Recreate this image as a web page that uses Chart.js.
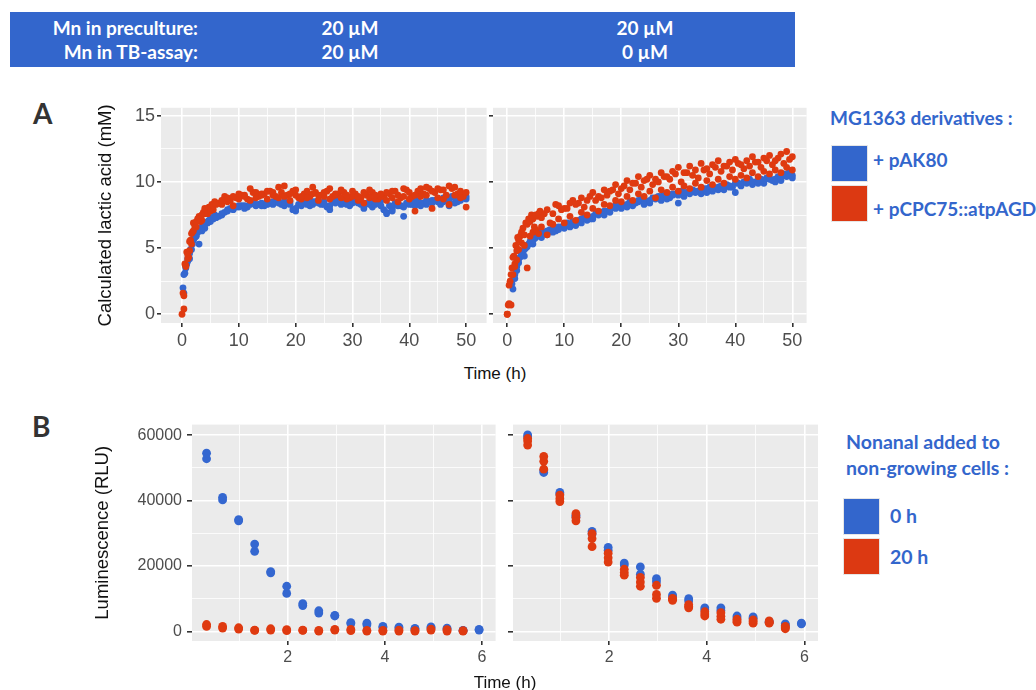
<!DOCTYPE html>
<html>
<head>
<meta charset="utf-8">
<script src="https://cdn.jsdelivr.net/npm/chart.js@4.4.1/dist/chart.umd.min.js"></script>
<style>
    body { margin: 0; width: 1036px; height: 690px; background: #fff; position: relative; overflow: hidden; font-family: "Liberation Sans", Arial, sans-serif; }
    canvas { position: absolute; }
    #banner { position: absolute; left: 10px; top: 12px; width: 785px; height: 55px; background: #3366cc; }
    .bn { position: absolute; color: #fff; font: bold 19px Lato, sans-serif; line-height: 20px; white-space: nowrap; }
    .lbl { position: absolute; color: #333; font: bold 28px Lato, sans-serif; line-height: 28px; }
    .xt { position: absolute; width: 200px; text-align: center; font-size: 17px; line-height: 20px; color: #111; }
    .lg { position: absolute; color: #3366cc; font: bold 19px Lato, sans-serif; line-height: 22px; white-space: nowrap; }
    .lg2 { font-size: 19.5px; }
    .sq { position: absolute; width: 35px; height: 35px; border: 1px solid #e6e6e6; }
</style>
</head>
<body>
<div id="banner">
    <div class="bn" style="left:0;width:188px;text-align:right;top:6px">Mn in preculture:</div>
    <div class="bn" style="left:0;width:188px;text-align:right;top:30px">Mn in TB-assay:</div>
    <div class="bn" style="left:280px;width:120px;text-align:center;top:6px">20 µM</div>
    <div class="bn" style="left:280px;width:120px;text-align:center;top:30px">20 µM</div>
    <div class="bn" style="left:575px;width:120px;text-align:center;top:6px">20 µM</div>
    <div class="bn" style="left:575px;width:120px;text-align:center;top:30px">0 µM</div>
</div>

<div class="lbl" style="left:33px;top:99px">A</div>
<div class="lbl" style="left:32px;top:412px">B</div>

<canvas id="aLeft"></canvas>
<canvas id="aRight"></canvas>
<canvas id="bLeft"></canvas>
<canvas id="bRight"></canvas>

<div class="xt" style="left:395px;top:364px">Time (h)</div>
<div class="xt" style="left:405px;top:673px">Time (h)</div>

<div class="lg" style="left:830px;top:107px">MG1363 derivatives :</div>
<div class="sq" style="left:831px;top:145px;background:#3366cc"></div>
<div class="sq" style="left:831px;top:185px;background:#dc3912"></div>
<div class="lg" style="left:873px;top:149px">+ pAK80</div>
<div class="lg" style="left:873px;top:198px">+ pCPC75::atpAGD</div>

<div class="lg lg2" style="left:846px;top:431px">Nonanal added to</div>
<div class="lg lg2" style="left:846px;top:457px">non-growing cells :</div>
<div class="sq" style="left:843px;top:498px;background:#3366cc"></div>
<div class="sq" style="left:843px;top:538px;background:#dc3912"></div>
<div class="lg lg2" style="left:890px;top:505px">0 h</div>
<div class="lg lg2" style="left:890px;top:546px">20 h</div>

<script>
// --- Panel A: calculated lactic acid (mM) vs time (h) ---
const timeA = [0, 0.33, 0.67, 1, 1.33, 1.67, 2, 2.5, 3, 3.5, 4, 4.5, 5, 5.5, 6,
    7, 8, 9, 10, 11, 12, 13, 14, 15, 16, 17,
    18, 19, 20, 21, 22, 23, 24, 25, 26, 27, 28,
    29, 30, 31, 32, 33, 34, 35, 36, 37, 38, 39,
    40, 41, 42, 43, 44, 45, 46, 47, 48, 49, 50];
const timeAOff = [0.17, 0.5, 0.83, 1.17, 1.5, 1.83, 2.25, 2.75, 3.25, 3.75, 4.25, 4.75, 5.25, 5.75,
    6.5, 7.5, 8.5, 9.5, 10.5, 11.5, 12.5, 13.5, 14.5, 15.5, 16.5,
    17.5, 18.5, 19.5, 20.5, 21.5, 22.5, 23.5, 24.5, 25.5, 26.5, 27.5,
    28.5, 29.5, 30.5, 31.5, 32.5, 33.5, 34.5, 35.5, 36.5, 37.5, 38.5,
    39.5, 40.5, 41.5, 42.5, 43.5, 44.5, 45.5, 46.5, 47.5, 48.5, 49.5];

// 20 µM / 20 µM, pAK80 (blue)
const lacL_pak1 = [null, 3.0, 3.6, 4.2, 4.6, 5.5, 5.7, 6.0, 6.3, 6.6, 6.8, 7.0, 7.2, 7.3, 7.4,
    7.6, 7.8, 8.0, 8.1, 8.2, 8.3, 8.2, 8.4, 8.3, 8.5, 8.4,
    8.5, 8.3, 8.0, 8.4, 8.3, 8.5, 8.6, 8.3, 7.9, 8.4, 8.5,
    8.3, 8.6, 8.4, 8.2, 8.5, 8.3, 8.6, 7.6, 7.8, 8.2, 7.4,
    8.3, 8.5, 8.2, 8.6, 8.4, 8.7, 8.5, 8.2, 8.8, 8.6, 8.7];
const lacL_pak2 = [null, 1.6, 3.5, 4.0, 4.2, 4.9, 5.6, 5.9, 5.3, 6.3, 6.5, 6.9, 7.0, 7.2, 7.3,
    7.5, 7.9, 7.9, 8.2, 8.0, 8.4, 8.3, 8.2, 8.5, 8.3, 8.5,
    8.2, 8.5, 7.8, 8.2, 8.5, 8.3, 8.4, 8.5, 8.2, 8.6, 8.3,
    8.5, 8.4, 8.6, 8.0, 8.3, 8.5, 8.2, 7.7, 8.0, 8.3, 8.1,
    8.5, 8.2, 8.4, 8.3, 8.6, 8.5, 8.8, 8.6, 8.4, 8.7, 8.9];
const lacL_pak3 = [2.0, 3.1, 3.8, 4.3, 4.9, 5.3, 5.8, 6.2, 6.4, 6.7, 6.9, 7.1, 7.3, 7.5,
    7.4, 7.7, 8.0, 8.1, 8.2, 8.1, 8.4, 8.3, 8.2, 8.4, 8.5,
    8.3, 8.4, 7.9, 8.3, 8.4, 8.2, 8.5, 8.3, 8.1, 8.5, 8.6,
    8.4, 8.2, 8.5, 8.3, 8.4, 8.1, 8.6, 7.9, 8.2, 8.4, 8.2,
    8.4, 8.3, 8.6, 8.4, 8.5, 8.6, 8.3, 8.7, 8.9, 8.5, 8.8];
// 20 µM / 20 µM, pCPC75::atpAGD (red)
const lacL_atp1 = [0.0, 1.4, 3.7, 4.5, 5.5, 6.1, 6.3, 7.0, 7.3, 7.5, 8.0, 7.6, 7.8, 8.2, 8.3,
    8.6, 8.8, 8.9, 9.1, 9.0, 9.5, 9.2, 9.0, 9.3, 9.2, 9.6,
    9.7, 9.1, 9.4, 8.9, 9.3, 9.6, 9.0, 9.2, 9.5, 9.1, 9.4,
    9.0, 9.3, 8.9, 9.2, 9.4, 9.0, 9.1, 9.2, 9.3, 9.0, 9.5,
    9.2, 9.0, 9.5, 9.6, 9.3, 9.5, 9.4, 9.7, 9.6, 9.3, 9.2];
const lacL_atp2 = [null, 0.4, 3.6, 4.2, 4.8, 5.3, 6.9, 6.6, 7.4, 7.1, 7.6, 8.0, 8.1, 7.9, 8.4,
    8.3, 8.5, 8.2, 8.7, 8.9, 8.6, 8.8, 9.1, 8.7, 9.0, 8.8,
    8.9, 8.6, 9.0, 8.7, 8.8, 9.1, 8.6, 8.9, 8.7, 9.0, 8.8,
    8.7, 8.9, 8.6, 8.4, 8.8, 8.7, 8.9, 8.6, 8.8, 8.5, 8.9,
    8.7, 7.8, 8.9, 9.0, 8.0, 8.8, 8.7, 8.3, 9.0, 8.8, 8.1];
const lacL_atp3 = [1.6, 3.8, 4.7, 4.3, 5.6, 6.2, 6.6, 7.2, 7.0, 7.7, 7.8, 8.1, 8.3, 8.5,
    8.4, 8.9, 8.6, 8.8, 9.0, 8.7, 9.2, 8.9, 9.1, 9.3, 8.9,
    9.2, 9.0, 9.3, 8.8, 9.1, 8.9, 9.2, 9.0, 9.3, 8.9, 9.1,
    9.2, 8.8, 9.1, 8.8, 9.0, 9.2, 8.7, 8.9, 9.1, 9.3, 8.8,
    9.4, 8.9, 9.3, 9.1, 9.5, 9.2, 9.4, 9.0, 9.5, 9.1, 8.9];

// 20 µM / 0 µM, pAK80 (blue)
const lacR_pak1 = [null, null, null, 1.9, 2.7, 3.3, 4.2, 4.6, 4.9, 5.1, 5.4, 5.6, 5.8, 6.0, 6.1,
    6.3, 6.5, 6.4, 6.8, 6.6, 7.0, 7.2, 7.1, 7.4, 7.6, 7.5,
    7.9, 8.0, 8.2, 8.1, 8.4, 8.5, 8.3, 8.6, 8.7, 8.6, 8.9,
    9.0, 8.4, 9.2, 9.1, 9.3, 9.4, 9.2, 9.5, 9.6, 9.4, 9.7,
    9.2, 9.8, 9.9, 10.0, 9.9, 10.1, 10.2, 10.0, 10.3, 10.4, 10.5];
const lacR_pak2 = [null, null, null, null, 3.0, 3.6, 3.9, 4.5, 4.4, 5.2, 5.5, 5.3, 5.9, 6.2, 5.8,
    6.0, 6.2, 6.6, 6.5, 6.8, 6.7, 6.9, 7.3, 7.2, 7.5, 7.8,
    7.7, 8.2, 8.0, 8.3, 8.2, 8.6, 8.5, 8.4, 8.8, 8.9, 8.7,
    9.1, 9.0, 8.9, 9.3, 9.2, 9.1, 9.5, 9.3, 9.4, 9.7, 9.6,
    9.9, 9.7, 10.0, 9.8, 10.1, 9.9, 10.3, 10.2, 10.1, 10.5, 10.3];
const lacR_pak3 = [null, null, 2.3, 2.8, 3.4, 4.0, 4.3, 4.7, 5.0, 5.3, 5.6, 5.7, 6.0, 6.1,
    6.2, 6.4, 6.3, 6.6, 6.9, 7.0, 7.1, 7.3, 7.2, 7.6, 7.7,
    7.8, 8.1, 8.3, 8.2, 8.5, 8.4, 8.7, 8.5, 8.8, 8.9, 9.0,
    8.8, 9.1, 9.3, 9.2, 9.4, 9.3, 9.5, 9.6, 9.5, 9.7, 9.8,
    9.6, 9.9, 10.0, 10.2, 10.0, 10.2, 10.3, 10.1, 10.4, 10.6, 10.8];
// 20 µM / 0 µM, pCPC75::atpAGD (red)
const lacR_atp1 = [0.0, 2.2, 3.0, 4.3, 3.6, 4.8, 5.6, 6.2, 6.0, 6.8, 7.0, 7.2, 7.5, 7.6, 7.3,
    7.9, 7.6, 8.2, 8.0, 8.4, 8.3, 8.8, 8.6, 9.2, 8.9, 9.4,
    9.3, 9.8, 9.5, 10.1, 9.9, 10.4, 10.1, 10.5, 10.2, 10.7, 10.4,
    10.8, 11.1, 10.7, 11.2, 10.9, 11.4, 11.0, 11.3, 11.6, 11.2, 11.5,
    11.7, 11.3, 11.6, 11.9, 11.5, 11.8, 12.0, 11.6, 12.1, 12.3, 11.9];
const lacR_atp2 = [0.0, 0.8, 0.7, 3.0, 3.8, 4.1, 4.9, 5.4, 5.2, 3.5, 5.9, 6.2, 6.4, 6.1, 6.6,
    6.0, 6.8, 7.2, 6.9, 7.4, 7.1, 7.7, 7.5, 8.0, 7.8, 8.3,
    8.2, 8.6, 8.5, 8.9, 8.6, 9.1, 8.9, 9.3, 8.8, 9.4, 9.2,
    9.6, 9.3, 9.7, 9.5, 9.9, 9.6, 10.1, 9.8, 10.2, 9.9, 10.4,
    10.2, 10.5, 10.3, 10.7, 10.4, 10.8, 10.6, 10.9, 10.7, 11.1, 10.9];
const lacR_atp3 = [0.7, 2.5, 3.5, 4.4, 5.2, 5.8, 5.9, 6.5, 6.9, 7.2, 7.5, 6.6, 7.4, 7.8,
    7.6, 6.9, 8.3, 7.9, 8.0, 8.6, 8.4, 8.1, 8.9, 8.6, 8.8,
    9.0, 9.4, 9.1, 9.7, 9.4, 9.9, 9.6, 10.2, 9.8, 10.0, 10.4,
    10.2, 10.6, 10.0, 10.7, 10.5, 10.3, 10.9, 10.6, 11.1, 10.8, 11.2,
    10.9, 11.4, 11.0, 11.2, 11.5, 11.1, 11.6, 11.3, 11.8, 11.4, 11.7];

// --- Panel B: luminescence (RLU) vs time (h) ---
const timeB = [0.33, 0.66, 0.99, 1.32, 1.65, 1.98, 2.31, 2.64, 2.97, 3.3, 3.63, 3.96, 4.29, 4.62, 4.95, 5.28, 5.61, 5.94];
const lumL_0h_a = [54500, 41000, 34200, 26700, 18300, 13800, 8500, 6300, 4900, 2700, 2500, 1500, 1300, 900, 1400, 1000, 300, 600];
const lumL_0h_b = [52800, 40200, 33800, 24500, 17900, 11600, 7900, 5600, 4700, 2400, 2000, 1200, 1000, 700, 1100, 700, 200, 400];
const lumL_20h_a = [2100, 1500, 1100, 400, 800, 500, 400, 300, 600, 600, 300, 300, 400, 200, 700, 500, 200, null];
const lumL_20h_b = [1500, 1000, 700, 300, 400, 200, 300, 100, 400, 200, 100, 100, 100, 100, 400, 100, 100, null];
const lumR_0h_a = [60100, 48600, 42500, 35500, 30600, 25700, 20900, 19700, 16100, 11100, 10000, 7200, 7200, 4700, 4400, 3000, 2300, 2500];
const lumR_0h_b = [59500, 49200, 42000, 35000, 29800, 24800, 20300, 17500, 15200, 10600, 9300, 6600, 6400, 4200, 4000, 2800, 1900, 2300];
const lumR_20h_a = [59000, 53500, 41700, 36000, 29900, 23900, 19000, 16500, 14100, 10100, 8200, 6000, 5700, 3700, 3500, 3200, 1500, null];
const lumR_20h_b = [57000, 52000, 39700, 34800, 28400, 21200, 18000, 15100, 11300, 9500, 7200, 4700, 3700, 2800, 2500, 2500, 800, null];
const lumR_20h_c = [58200, 49600, 40600, 33800, 25900, 22500, 17200, 13800, 10100, 9800, 7700, 5300, 4600, 3200, 3000, 2800, 1200, null];

// axis ticks (major = labelled, minor = thin grid only)
const ticksAx = [0, 5, 10, 15, 20, 25, 30, 35, 40, 45, 50];
const majorAx = [0, 10, 20, 30, 40, 50];
const ticksAy = [0, 2.5, 5, 7.5, 10, 12.5, 15];
const majorAy = [0, 5, 10, 15];
const ticksBx = [1, 2, 3, 4, 5, 6];
const majorBx = [2, 4, 6];
const ticksBy = [0, 10000, 20000, 30000, 40000, 50000, 60000];
const majorBy = [0, 20000, 40000, 60000];

const BLUE = '#3467d0';
const RED = '#df3a10';

function pts(times, vals) {
    return times.map((t, i) => ({ x: t, y: vals[i] })).filter(p => p.y !== null && p.y !== undefined);
}

function serie(times, vals, color, r) {
    return { data: pts(times, vals), backgroundColor: color, borderWidth: 0, pointRadius: r, pointHoverRadius: r };
}

const fundoPainel = {
    id: 'fundoPainel',
    beforeDraw(chart) {
        const { ctx, chartArea: a } = chart;
        ctx.save();
        ctx.fillStyle = '#ebebeb';
        ctx.fillRect(a.left, a.top, a.right - a.left, a.bottom - a.top);
        ctx.restore();
    }
};

function eixo(cfg) {
    const isMajor = (c) => c.tick && cfg.major.includes(c.tick.value);
    const s = {
        type: 'linear',
        min: cfg.min,
        max: cfg.max,
        afterBuildTicks: (sc) => { sc.ticks = cfg.ticks.map(v => ({ value: v })); },
        ticks: {
            autoSkip: false,
            maxRotation: 0,
            padding: cfg.pad,
            color: '#4d4d4d',
            font: { size: cfg.fontSize, family: 'Liberation Sans' },
            callback: (v) => (cfg.showLabels && cfg.major.includes(v)) ? String(v) : ''
        },
        grid: {
            color: '#ffffff',
            lineWidth: (c) => isMajor(c) ? 1.6 : 0.8,
            tickColor: (c) => isMajor(c) ? '#333333' : 'rgba(0,0,0,0)',
            tickLength: cfg.tickLen || 4
        },
        border: { display: false }
    };
    if (cfg.title) {
        s.title = { display: true, text: cfg.title, color: '#111', font: { size: 18.5, family: 'Liberation Sans' }, padding: { top: cfg.titlePad, bottom: 0 } };
    }
    return s;
}

function painel(id, box, plot, datasets, xCfg, yCfg) {
    const cv = document.getElementById(id);
    cv.width = box.w;
    cv.height = box.h;
    cv.style.left = box.x + 'px';
    cv.style.top = box.y + 'px';
    const yW = plot.l - box.x;
    const xH = box.y + box.h - plot.b;
    const x = eixo(xCfg);
    x.afterFit = (sc) => { sc.height = xH; };
    const y = eixo(yCfg);
    y.afterFit = (sc) => { sc.width = yW; };
    return new Chart(cv, {
        type: 'scatter',
        data: { datasets: datasets },
        options: {
            responsive: false,
            animation: false,
            layout: { padding: { top: plot.t - box.y, right: box.x + box.w - plot.r, left: 0, bottom: 0 } },
            plugins: { legend: { display: false }, tooltip: { enabled: false } },
            scales: { x: x, y: y }
        },
        plugins: [fundoPainel]
    });
}

function main() {
    const rA = 3.4, rB = 4.4;
    const xA = { ticks: ticksAx, major: majorAx, fontSize: 18, pad: 3, showLabels: true };
    const yA = { ticks: ticksAy, major: majorAy, fontSize: 18, pad: 2, min: -0.66, max: 15.6 };
    const xB = { ticks: ticksBx, major: majorBx, fontSize: 16, pad: 3, showLabels: true, min: 0.03, max: 6.28 };
    const yB = { ticks: ticksBy, major: majorBy, fontSize: 16, pad: 5, tickLen: 5, min: -2950, max: 63250 };

    painel('aLeft', { x: 90, y: 95, w: 400, h: 260 }, { l: 161, t: 102, r: 488, b: 323 }, [
        serie(timeA, lacL_atp1, RED, rA), serie(timeA, lacL_atp2, RED, rA), serie(timeAOff, lacL_atp3, RED, rA),
        serie(timeA, lacL_pak1, BLUE, rA), serie(timeA, lacL_pak2, BLUE, rA), serie(timeAOff, lacL_pak3, BLUE, rA)
    ], { ...xA, min: -3.7, max: 53.6 },
       { ...yA, showLabels: true, title: 'Calculated lactic acid (mM)', titlePad: 5 });

    painel('aRight', { x: 486, y: 95, w: 324, h: 260 }, { l: 493, t: 102, r: 807, b: 323 }, [
        serie(timeA, lacR_atp1, RED, rA), serie(timeA, lacR_atp2, RED, rA), serie(timeAOff, lacR_atp3, RED, rA),
        serie(timeA, lacR_pak1, BLUE, rA), serie(timeA, lacR_pak2, BLUE, rA), serie(timeAOff, lacR_pak3, BLUE, rA)
    ], { ...xA, min: -2.5, max: 52.5 },
       { ...yA, showLabels: false });

    painel('bLeft', { x: 90, y: 410, w: 410, h: 265 }, { l: 192, t: 417, r: 496, b: 641 }, [
        serie(timeB, lumL_20h_a, RED, rB), serie(timeB, lumL_20h_b, RED, rB),
        serie(timeB, lumL_0h_a, BLUE, rB), serie(timeB, lumL_0h_b, BLUE, rB)
    ], xB, { ...yB, showLabels: true, title: 'Luminescence (RLU)', titlePad: 2 });

    painel('bRight', { x: 505, y: 410, w: 318, h: 265 }, { l: 513, t: 417, r: 818, b: 641 }, [
        serie(timeB, lumR_20h_a, RED, rB), serie(timeB, lumR_20h_b, RED, rB), serie(timeB, lumR_20h_c, RED, rB),
        serie(timeB, lumR_0h_a, BLUE, rB), serie(timeB, lumR_0h_b, BLUE, rB)
    ], xB, { ...yB, showLabels: false });
}

window.addEventListener('DOMContentLoaded', main);
</script>
</body>
</html>
